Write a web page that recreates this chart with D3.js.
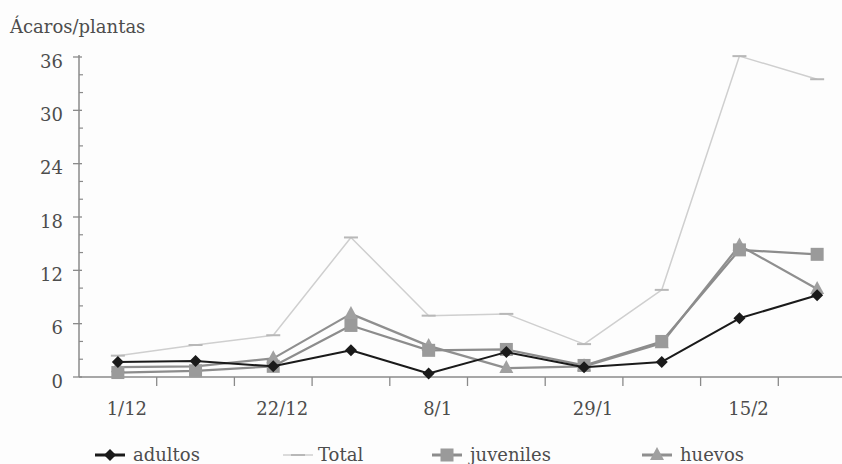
<!DOCTYPE html>
<html>
<head>
<meta charset="utf-8">
<script src="https://cdn.jsdelivr.net/npm/d3@7"></script>
<style>
  html, body { margin: 0; padding: 0; background: #fdfdfd; }
  svg { display: block; }
  text { font-family: "DejaVu Serif", "Liberation Serif", serif; fill: #4d4d4d; }
</style>
</head>
<body>
<svg id="chart" width="842" height="464"></svg>
<script>
// ---- data ----
const categories = [0, 1, 2, 3, 4, 5, 6, 7, 8, 9];
const tickLabels = ["1/12", "", "22/12", "", "8/1", "", "29/1", "", "15/2", ""];
const adultos   = [1.7, 1.8, 1.2, 3.0, 0.4, 2.8, 1.1, 1.7, 6.6, 9.2];
const total     = [2.4, 3.6, 4.7, 15.7, 6.9, 7.1, 3.7, 9.8, 36.1, 33.5];
const juveniles = [0.5, 0.7, 1.2, 5.8, 3.0, 3.1, 1.3, 4.0, 14.3, 13.8];
const huevos    = [1.1, 1.2, 2.1, 7.1, 3.5, 1.0, 1.2, 3.8, 14.8, 9.9];
const yTicks = [0, 6, 12, 18, 24, 30, 36];
const yTitle = "Ácaros/plantas";

const series = [
  { name: "adultos",   values: adultos,   color: "#1a1a1a", width: 2,   marker: "diamond" },
  { name: "Total",     values: total,     color: "#cfcfcf", width: 1.5, marker: "dash" },
  { name: "juveniles", values: juveniles, color: "#8c8c8c", width: 2.2, marker: "square" },
  { name: "huevos",    values: huevos,    color: "#8f8f8f", width: 2.2, marker: "triangle" }
];

const svg = d3.select("#chart");
const x = d3.scaleBand().domain(categories).range([79, 856]).padding(0);
const y = d3.scaleLinear().domain([0, 36]).range([377, 57]);
const cx = i => x(i) + x.bandwidth() / 2;

// title
svg.append("text").attr("x", 10).attr("y", 33).attr("font-size", 18).text(yTitle);

// y axis
const axisColor = "#8a8a8a";
svg.append("line").attr("x1", 79).attr("x2", 79).attr("y1", y(36) - 2).attr("y2", y(0))
  .attr("stroke", axisColor).attr("stroke-width", 1.5);
const minor = d3.range(0, 37, 2).filter(v => v % 6 !== 0);
svg.selectAll(".ymin").data(minor).join("line")
  .attr("x1", 79).attr("x2", 83).attr("y1", d => y(d)).attr("y2", d => y(d))
  .attr("stroke", axisColor).attr("stroke-width", 1.2);
svg.selectAll(".ymaj").data(yTicks).join("line")
  .attr("x1", 73).attr("x2", 82).attr("y1", d => y(d)).attr("y2", d => y(d))
  .attr("stroke", axisColor).attr("stroke-width", 1.3);
svg.selectAll(".ylab").data(yTicks).join("text")
  .attr("x", 63).attr("y", d => y(d)).attr("dy", "0.6em")
  .attr("text-anchor", "end").attr("font-size", 18).text(d => d);

// x axis
svg.append("line").attr("x1", 79).attr("x2", 842).attr("y1", y(0)).attr("y2", y(0))
  .attr("stroke", axisColor).attr("stroke-width", 1.5);
svg.selectAll(".xt").data(categories.slice(1)).join("line")
  .attr("x1", d => x(d)).attr("x2", d => x(d))
  .attr("y1", y(0)).attr("y2", y(0) + 9)
  .attr("stroke", axisColor).attr("stroke-width", 1.3);
svg.selectAll(".xlab").data(categories.filter(i => tickLabels[i])).join("text")
  .attr("x", d => cx(d) + 9).attr("y", 415)
  .attr("text-anchor", "middle").attr("font-size", 18).text(d => tickLabels[d]);

// markers
function drawMarker(g, type, color, px, py) {
  if (type === "diamond") {
    g.append("path").attr("d", `M${px},${py - 6}L${px + 6},${py}L${px},${py + 6}L${px - 6},${py}Z`)
      .attr("fill", color);
  } else if (type === "square") {
    g.append("rect").attr("x", px - 6.5).attr("y", py - 6.5).attr("width", 13).attr("height", 13)
      .attr("fill", "#9a9a9a");
  } else if (type === "triangle") {
    g.append("path").attr("d", `M${px},${py - 8}L${px + 7},${py + 5}L${px - 7},${py + 5}Z`)
      .attr("fill", "#a0a0a0");
  } else if (type === "dash") {
    g.append("line").attr("x1", px - 7).attr("x2", px + 7).attr("y1", py).attr("y2", py)
      .attr("stroke", "#b8b8b8").attr("stroke-width", 2);
  }
}

const line = d3.line().x((d, i) => cx(i)).y(d => y(d));
// draw order: Total, huevos, juveniles, adultos
const order = ["Total", "huevos", "juveniles", "adultos"];
order.forEach(n => {
  const s = series.find(z => z.name === n);
  const g = svg.append("g");
  g.append("path").datum(s.values).attr("d", line)
    .attr("fill", "none").attr("stroke", s.color).attr("stroke-width", s.width)
    .attr("stroke-linejoin", "round");
  s.values.forEach((v, i) => drawMarker(g, s.marker, s.color, cx(i), y(v)));
});

// legend
const legendPos = [
  { lx: 110, tx: 133 },
  { lx: 298, tx: 318 },
  { lx: 447, tx: 470 },
  { lx: 657, tx: 680 }
];
series.forEach((s, k) => {
  const g = svg.append("g");
  const p = legendPos[k];
  const ly = 455;
  g.append("line").attr("x1", p.lx - 15).attr("x2", p.lx + 15).attr("y1", ly).attr("y2", ly)
    .attr("stroke", s.color).attr("stroke-width", s.name === "Total" ? 1.5 : 3);
  drawMarker(g, s.marker, s.color, p.lx, ly);
  g.append("text").attr("x", p.tx).attr("y", ly + 6).attr("font-size", 18).text(s.name);
});
</script>
</body>
</html>
